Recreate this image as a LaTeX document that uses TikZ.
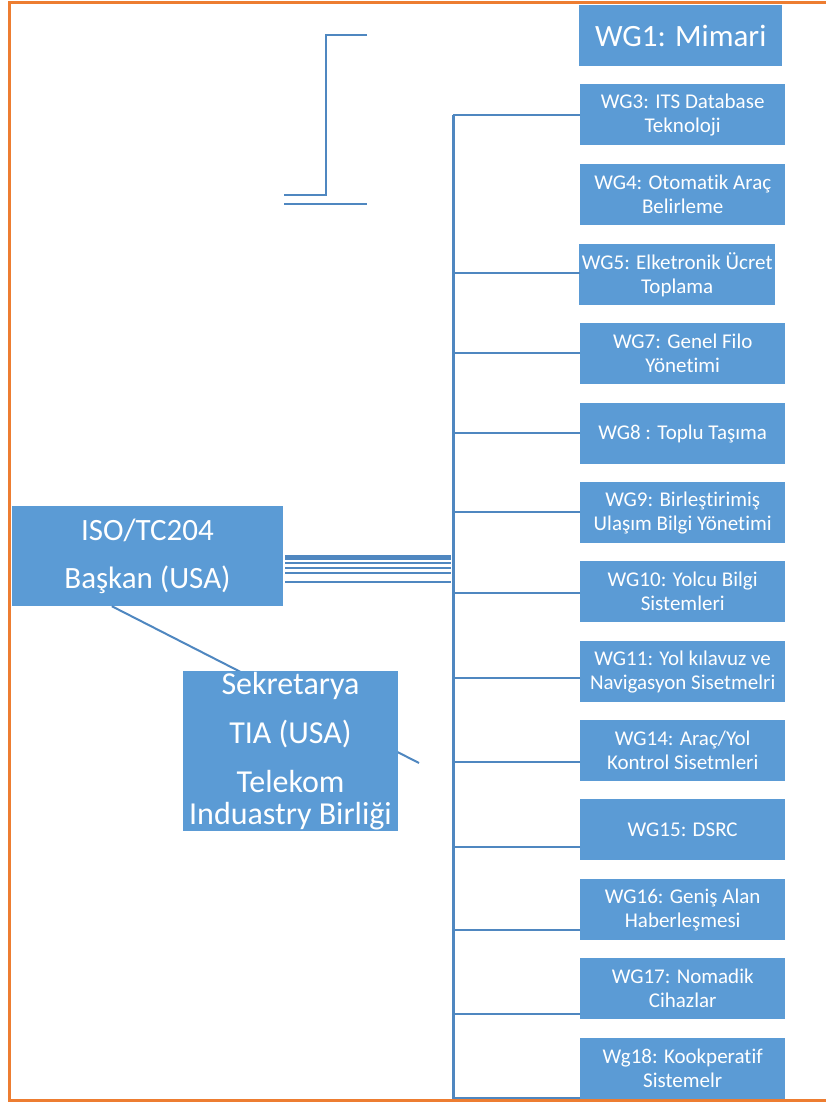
\documentclass[tikz,border=0pt]{standalone}
\usepackage{fontspec}
\setmainfont{Carlito}[Ligatures=NoCommon]
\definecolor{boxblue}{RGB}{91,155,213}
\definecolor{lineblue}{RGB}{79,135,192}
\definecolor{frameorange}{RGB}{237,125,49}
\begin{document}
\begin{tikzpicture}[x=1pt,y=-1pt,
  wgbox/.style={fill=boxblue, text=white, minimum height=61pt, minimum width=205pt, inner sep=0pt, anchor=north west, align=center, font=\fontsize{21}{24}\selectfont},
  bigbox/.style={fill=boxblue, text=white, inner sep=0pt, align=center},
  conn/.style={draw=lineblue, line width=2pt},
  trunkline/.style={draw=lineblue, line width=3pt},
  stray/.style={draw=lineblue, line width=2.5pt},
  framebar/.style={draw=frameorange, line width=3pt}]
\useasboundingbox (0,0) rectangle (826,1102);

% stray lines top left
\draw[stray] (367,35) -- (326,35) -- (326,195) -- (284,195);
\draw[stray] (284,204) -- (367,204);

% WG boxes
\node[wgbox, minimum width=203pt, font=\fontsize{31}{36}\selectfont] (wg1) at (579,5) {WG1: Mimari};
\node[wgbox] (wg3) at (580,84) {WG3: ITS Database\\Teknoloji};
\node[wgbox] (wg4) at (580,164) {WG4: Otomatik Araç\\Belirleme};
\node[wgbox, minimum width=196pt] (wg5) at (579,244) {WG5: Elketronik Ücret\\Toplama};
\node[wgbox] (wg7) at (580,323) {WG7: Genel Filo\\Yönetimi};
\node[wgbox] (wg8) at (580,403) {WG8 : Toplu Taşıma};
\node[wgbox] (wg9) at (580,482) {WG9: Birleştirimiş\\Ulaşım Bilgi Yönetimi};
\node[wgbox] (wg10) at (580,561) {WG10: Yolcu Bilgi\\Sistemleri};
\node[wgbox] (wg11) at (580,641) {WG11: Yol kılavuz ve\\Navigasyon Sisetmelri};
\node[wgbox] (wg14) at (580,720) {WG14: Araç/Yol\\Kontrol Sisetmleri};
\node[wgbox] (wg15) at (580,799) {WG15: DSRC};
\node[wgbox] (wg16) at (580,879) {WG16: Geniş Alan\\Haberleşmesi};
\node[wgbox] (wg17) at (580,958) {WG17: Nomadik\\Cihazlar};
\node[wgbox] (wg18) at (580,1038) {Wg18: Kookperatif\\Sistemelr};

% trunk and branches
\draw[trunkline] (wg3.west) ++(-127,0) -- ++(0,985);
\draw[conn] (wg3.west) -- ++(-127,0);
\draw[conn] (wg5.west) ++(1,-1.5) -- ++(-127,0);
\draw[conn] (wg7.west) ++(0,-0.5) -- ++(-127,0);
\draw[conn] (wg8.west) ++(0,-0.5) -- ++(-127,0);
\draw[conn] (wg9.west) ++(0,-0.5) -- ++(-127,0);
\draw[conn] (wg10.west) ++(0,1.5) -- ++(-127,0);
\draw[conn] (wg11.west) ++(0,6.5) -- ++(-127,0);
\draw[conn] (wg14.west) ++(0,11.5) -- ++(-127,0);
\draw[conn] (wg15.west) ++(0,17.5) -- ++(-127,0);
\draw[conn] (wg16.west) ++(0,20.5) -- ++(-127,0);
\draw[conn] (wg17.west) ++(0,25.5) -- ++(-127,0);
\draw[conn] (wg18.west) ++(0,29.5) -- ++(-127,0);

% ISO box
\node[bigbox, minimum width=271pt, minimum height=100pt, font=\fontsize{31}{48}\selectfont] (iso) at (147.5,556) {ISO/TC204\\Başkan (USA)};

% parallel lines from ISO to trunk
\draw[conn, line width=5pt] (iso.east) ++(2,1) -- ++(166,0);
\draw[conn] (iso.east) ++(2,7) -- ++(166,0);
\draw[conn] (iso.east) ++(2,12) -- ++(166,0);
\draw[conn] (iso.east) ++(2,17) -- ++(166,0);
\draw[conn] (iso.east) ++(2,26) -- ++(166,0);

% diagonal behind secretariat
\coordinate (diagend) at (419,763);
\draw[conn] ([xshift=100pt]iso.south west) -- (diagend);

% secretariat box
\node[bigbox, minimum width=215pt, minimum height=160pt, font=\fontsize{32}{49}\selectfont] (sek) at (290.5,751) {Sekretarya\\TIA (USA)\\Telekom\\[-17pt]Induastry Birliği};

% orange frame
\draw[framebar] (826,3) -- (9.5,3) -- (9.5,1100) -- (826,1100);
\end{tikzpicture}
\end{document}
